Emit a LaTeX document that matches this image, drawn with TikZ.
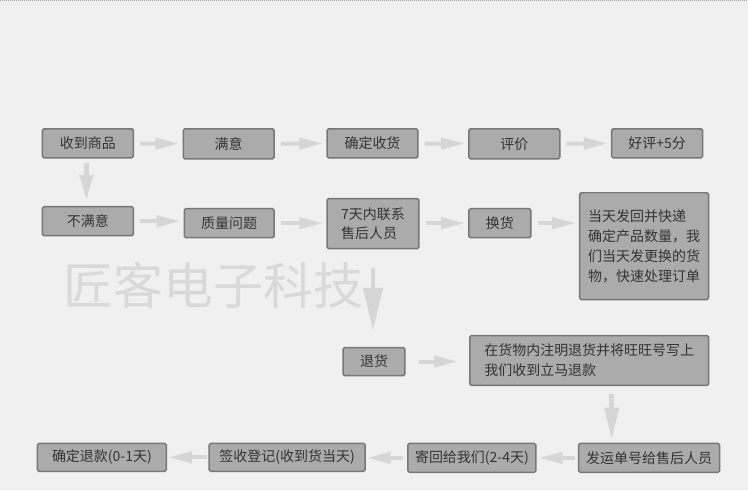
\documentclass[tikz,border=0pt]{standalone}
\usepackage{fontspec}
\newfontfamily\cjk{Noto Sans CJK SC}
\usepackage{tikz}
\usepackage{xcolor}
\usetikzlibrary{arrows.meta}
\definecolor{bggray}{HTML}{F0F0F0}
\definecolor{boxfill}{HTML}{ABABAB}
\definecolor{boxline}{HTML}{777777}
\definecolor{txtgray}{HTML}{333333}
\definecolor{arrgray}{HTML}{D6D6D6}
\definecolor{markgray}{HTML}{D9D9D9}
\definecolor{topline}{HTML}{A4A8B4}

\begin{document}
\begin{tikzpicture}[x=1pt,y=-1pt,
box/.style 2 args={draw=boxline,fill=boxfill,line width=1.5pt,rounded corners=1.5pt,
  text=txtgray,font=\cjk\fontsize{14}{20}\selectfont,align=left,inner sep=0pt,
  minimum width=#1,minimum height=#2},
flow/.style={draw=arrgray,line width=4pt,-{Triangle[length=24pt,width=11pt]},shorten <=6pt,shorten >=3pt},
down/.style={draw=arrgray,line width=4.5pt,-{Triangle[#1]}}]
\fill[bggray](0,0)rectangle(748,491);
\draw[topline,line width=1pt,dash pattern=on 1pt off 1pt](0,0.5)--(748,0.5);
%watermark
\node[text=markgray,font=\cjk\fontsize{50}{50}\selectfont,inner sep=0pt] (mark) at (213,286) {匠客电子科技};
%row 1
\node[box={91pt}{29pt}] (recv) at (87.5,143.5) {收到商品};
\node[box={91pt}{30pt}] (ok) at (228.5,144) {满意};
\node[box={91pt}{29pt}] (confirm) at (372.5,143.5) {确定收货};
\node[box={91pt}{30pt}] (review) at (514.5,144) {评价};
\node[box={91pt}{29pt}] (praise) at (657.5,143.5) {好评+5分};
%row 2
\node[box={91pt}{29pt}] (unhappy) at (87.5,221.5) {不满意};
\node[box={90pt}{29pt}] (quality) at (229,223.5) {质量问题};
\node[box={92pt}{50pt}] (contact) at (373,224) {7天内联系\\售后人员};
\node[box={62pt}{29pt}] (swap) at (500,223.5) {换货};
\node[box={129pt}{107pt}] (ship) at (644.5,246.5) {当天发回并快递\\确定产品数量，我\\们当天发更换的货\\物，快速处理订单};
%row 3
\node[box={62pt}{28pt}] (ret) at (374,362) {退货};
\node[box={239pt}{50pt}] (note) at (589.5,361) {在货物内注明退货并将旺旺号写上\\我们收到立马退款};
%row 4
\node[box={141pt}{29pt}] (track) at (649.5,458.5) {发运单号给售后人员};
\node[box={128pt}{29pt}] (sendback) at (472,458.5) {寄回给我们(2-4天)};
\node[box={156pt}{28pt}] (sign) at (287,458) {签收登记(收到货当天)};
\node[box={129pt}{28pt}] (refund) at (101.5,458) {确定退款(0-1天)};
\coordinate (downx) at (612,0);
\coordinate (leftx) at (86,0);

\draw[flow](recv)--(ok);
\draw[flow](ok)--(confirm);
\draw[flow](confirm)--(review);
\draw[flow](review)--(praise);
\draw[flow](unhappy.east)--(unhappy.east-|quality.west);
\draw[flow](quality.east)--(quality.east-|contact.west);
\draw[flow](contact.east|-swap.east)--(swap.west);
\draw[flow](swap)--(swap-|ship.west);
\draw[flow,shorten <=13pt,shorten >=11pt](ret.east)--(ret.east-|note.west);
\draw[flow,shorten <=3pt,shorten >=2pt](track.west)--(track.west-|sendback.east);
\draw[flow,shorten <=4pt,shorten >=1pt](sendback.west)--(sendback.west-|sign.east);
\draw[flow,shorten <=1pt,shorten >=1pt](sign.west)--(sign.west-|refund.east);
\draw[down={length=25pt,width=13pt},shorten <=4pt,shorten >=6pt](recv.south-|leftx)--(unhappy.north-|leftx);
\draw[down={length=43pt,width=19pt},shorten <=19pt,shorten >=16pt](contact.south)--(contact.south|-ret.north);
\draw[down={length=32pt,width=14pt},shorten <=8pt,shorten >=3pt](note.south-|downx)--(track.north-|downx);
\end{tikzpicture}
\end{document}
